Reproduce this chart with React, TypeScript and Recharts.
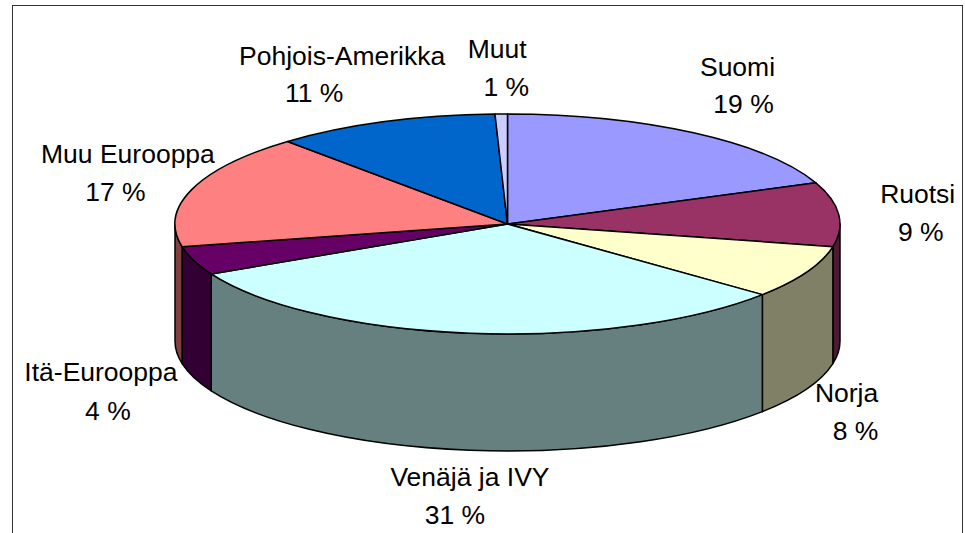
import React from "react";
import { PieChart, Pie, Cell } from "recharts";

const names = ["Suomi", "Ruotsi", "Norja", "Venäjä ja IVY", "Itä-Eurooppa", "Muu Eurooppa", "Pohjois-Amerikka", "Muut"];
const shares = [18.9, 9.4, 7.8, 31.4, 4.2, 16.8, 10.9, 0.6];
const topColors = ["#9999FF", "#993366", "#FFFFCC", "#CCFFFF", "#660066", "#FF8080", "#0066CC", "#CCCCFF"];
const sideColors = ["#4D4D80", "#4D1A33", "#808066", "#668080", "#330033", "#804040", "#003366", "#666680"];

const data = names.map((name, i) => ({ name, value: shares[i] }));

const FLATTEN = 110 / 332.5;
const DEPTH = 117;
const RAD = Math.PI / 180;

// Label offsets from the slice's rim midpoint: first line dx, dy, second line dx, line gap.
const labelOffsets = [
  [44, -57, 50, 37.5],
  [79, -11, 82, 37.5],
  [40, 130, 49, 37.5],
  [0, 153, -15, 37.5],
  [-93, 120, -86, 39],
  [-64, -26, -76.5, 37.5],
  [-42, -57, -70, 37.5],
  [-4, -56, 5, 37.5],
];

const pt = (cx: number, cy: number, r: number, a: number) => [
  cx + r * Math.cos(a * RAD),
  cy - r * FLATTEN * Math.sin(a * RAD),
];

const TopSlice = (p: any) => {
  const { cx, cy, outerRadius: r, startAngle, endAngle, fill } = p;
  const [x0, y0] = pt(cx, cy, r, startAngle);
  const [x1, y1] = pt(cx, cy, r, endAngle);
  const large = Math.abs(startAngle - endAngle) > 180 ? 1 : 0;
  return (
    <path
      d={`M${cx},${cy}L${x0},${y0}A${r},${r * FLATTEN} 0 ${large} 1 ${x1},${y1}Z`}
      fill={fill}
      stroke="#000"
      strokeWidth={1.5}
      strokeLinejoin="round"
    />
  );
};

const SideSlice = (p: any) => {
  const { cx, cy, outerRadius: r, startAngle, endAngle, fill } = p;
  const hi = Math.min(startAngle, 0);
  const lo = Math.max(endAngle, -180);
  if (hi <= lo) return <g />;
  const [x0, y0] = pt(cx, cy, r, hi);
  const [x1, y1] = pt(cx, cy, r, lo);
  const d =
    `M${x0},${y0}A${r},${r * FLATTEN} 0 0 1 ${x1},${y1}` +
    `L${x1},${y1 + DEPTH}A${r},${r * FLATTEN} 0 0 0 ${x0},${y0 + DEPTH}Z`;
  return <path d={d} fill={fill} stroke="#000" strokeWidth={1.5} strokeLinejoin="round" />;
};

const renderLabel = (p: any) => {
  const { cx, cy, outerRadius: r, midAngle, index } = p;
  const [x, y] = pt(cx, cy, r, midAngle);
  const [dx, dy, dx2, gap] = labelOffsets[index];
  const style = { fontFamily: "'Liberation Sans', Arial, sans-serif", fontSize: 26.5, fill: "#000" };
  return (
    <g key={names[index]}>
      <text x={x + dx} y={y + dy} textAnchor="middle" style={style}>
        {names[index]}
      </text>
      <text x={x + dx2} y={y + dy + gap} textAnchor="middle" style={style}>
        {`${Math.max(1, Math.round(shares[index]))} %`}
      </text>
    </g>
  );
};

const margin = { top: 0, right: 0, bottom: 0, left: 0 };

export default function App() {
  return (
    <div style={{ position: "absolute", left: 0, top: 0, width: 965, height: 533, background: "#fff", overflow: "hidden" }}>
      <div
        style={{
          position: "absolute",
          left: 12,
          top: 5,
          width: 949,
          height: 540,
          border: "1.5px solid #333",
          boxSizing: "content-box",
        }}
      />
      <PieChart width={965} height={533} margin={margin} style={{ position: "absolute", left: 0, top: 0 }}>
        <Pie
          data={data}
          dataKey="value"
          nameKey="name"
          cx={507.5}
          cy={224}
          outerRadius={332.5}
          startAngle={90}
          endAngle={-270}
          isAnimationActive={false}
          shape={SideSlice}
          label={false}
          labelLine={false}
        >
          {sideColors.map((c) => (
            <Cell key={c} fill={c} />
          ))}
        </Pie>
        <Pie
          data={data}
          dataKey="value"
          nameKey="name"
          cx={507.5}
          cy={224}
          outerRadius={332.5}
          startAngle={90}
          endAngle={-270}
          isAnimationActive={false}
          shape={TopSlice}
          label={renderLabel}
          labelLine={false}
        >
          {topColors.map((c) => (
            <Cell key={c} fill={c} />
          ))}
        </Pie>
      </PieChart>
    </div>
  );
}
